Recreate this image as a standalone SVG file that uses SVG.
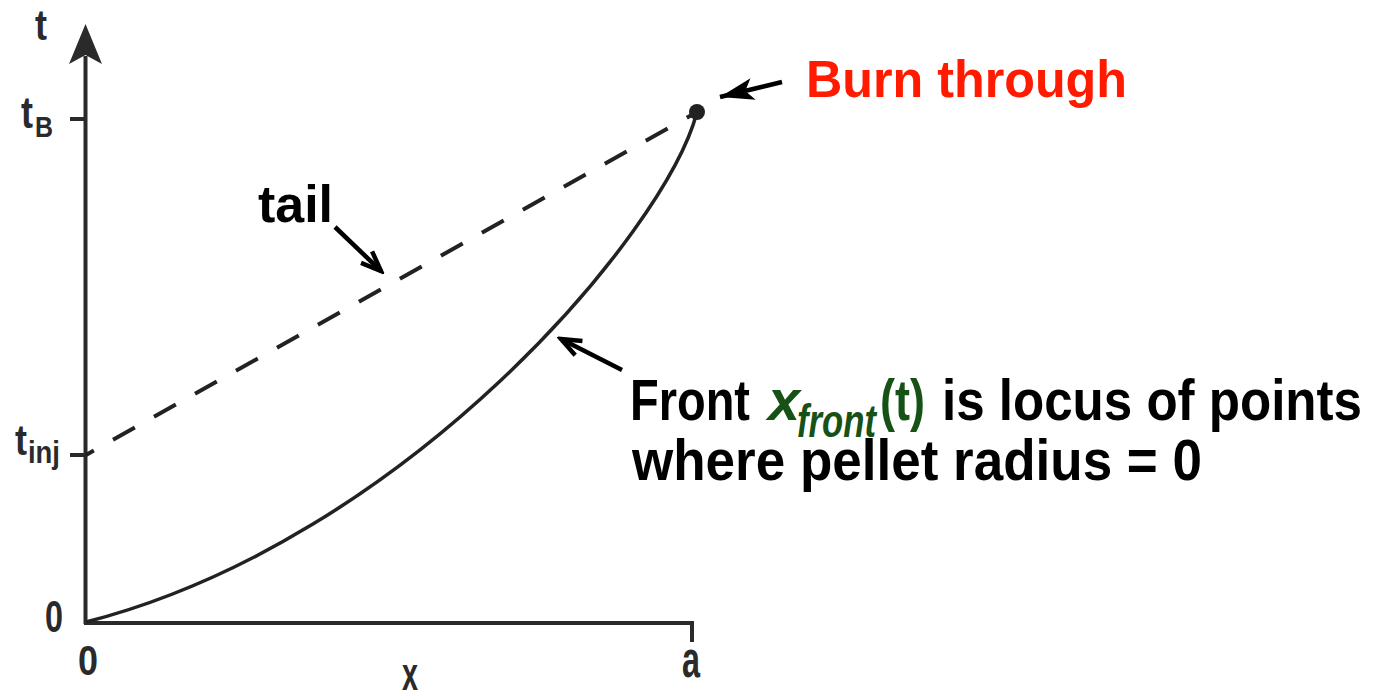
<svg xmlns="http://www.w3.org/2000/svg" width="1376" height="690" viewBox="0 0 1376 690">
  <style>
    .ax { font-family: "Liberation Sans", Arial, sans-serif; font-weight: bold; fill: #2a2a2a; }
    .lb { font-family: "Liberation Sans", Arial, sans-serif; font-weight: bold; fill: #000; }
    .gr { fill: #165216; }
    .it { font-style: italic; }
    .axis { stroke: #2a2a2a; stroke-width: 4; fill: none; }
    .curve { stroke: #222; stroke-width: 3.5; fill: none; }
    .dash { stroke: #222; stroke-width: 4; fill: none; stroke-dasharray: 25 22; stroke-dashoffset: 16; }
    .arr { stroke: #000; stroke-width: 4.5; fill: none; }
  </style>
  <defs>
    <marker id="chev" markerUnits="userSpaceOnUse" markerWidth="30" markerHeight="30" refX="0" refY="0" viewBox="-26 -15 30 30" orient="auto">
      <path d="M-20,-8 L0,0 L-20,8" stroke="#000" stroke-width="4.5" fill="none" stroke-linejoin="miter"/>
    </marker>
    <marker id="barb" markerUnits="userSpaceOnUse" markerWidth="40" markerHeight="30" refX="0" refY="0" viewBox="-36 -15 40 30" orient="auto">
      <path d="M0,0 L-34,-11 L-26,0 L-34,11 Z" fill="#000"/>
    </marker>
  </defs>
  <rect width="1376" height="690" fill="#ffffff"/>

  <g id="axes">
    <line class="axis" x1="85.5" y1="624" x2="85.5" y2="56"/>
    <polygon points="85.5,24 102,64 85.5,55 69,64" fill="#2a2a2a"/>
    <polyline class="axis" points="84,623 692,623 692,642"/>
    <line class="axis" x1="70" y1="119" x2="86" y2="119"/>
    <line class="axis" x1="70" y1="455" x2="86" y2="455"/>
  </g>

  <g id="axis-labels">
    <text class="ax" x="35" y="40" font-size="42" textLength="12" lengthAdjust="spacingAndGlyphs">t</text>
    <text class="ax" x="21" y="128" font-size="44" textLength="12" lengthAdjust="spacingAndGlyphs">t</text>
    <text class="ax" x="35" y="137" font-size="30" textLength="18" lengthAdjust="spacingAndGlyphs">B</text>
    <text class="ax" x="15" y="455" font-size="42" textLength="12" lengthAdjust="spacingAndGlyphs">t</text>
    <text class="ax" x="28" y="463" font-size="31" textLength="32" lengthAdjust="spacingAndGlyphs">inj</text>
    <text class="ax" x="45" y="632" font-size="44" textLength="18" lengthAdjust="spacingAndGlyphs">0</text>
    <text class="ax" x="78" y="675" font-size="42" textLength="20" lengthAdjust="spacingAndGlyphs">0</text>
    <text class="ax" x="682" y="677" font-size="52" textLength="18" lengthAdjust="spacingAndGlyphs">a</text>
    <text class="ax" x="402" y="690" font-size="46" textLength="16" lengthAdjust="spacingAndGlyphs">x</text>
  </g>

  <g id="curves">
    <path id="tail-line" class="dash" d="M86,455 L697,112"/>
    <path id="front-curve" class="curve" d="M86,622 C406,540 666,232 697,112"/>
    <circle id="burn-point" cx="697" cy="112" r="8" fill="#222"/>
  </g>

  <g id="connectors">
    <line class="arr" x1="335" y1="227" x2="381" y2="271" marker-end="url(#chev)"/>
    <line class="arr" x1="782" y1="82" x2="720" y2="97" marker-end="url(#barb)"/>
    <line class="arr" x1="622" y1="370" x2="561" y2="339" marker-end="url(#chev)"/>
  </g>

  <g id="label-tail">
    <text class="lb" x="258" y="222" font-size="52" textLength="75" lengthAdjust="spacingAndGlyphs">tail</text>
  </g>

  <g id="label-burn">
    <text class="lb" x="806" y="97" font-size="52" textLength="321" lengthAdjust="spacingAndGlyphs" style="fill:#ff1a00">Burn through</text>
  </g>

  <g id="label-front">
    <text class="lb" x="630" y="420" font-size="57" textLength="120" lengthAdjust="spacingAndGlyphs">Front</text>
    <text class="lb gr it" x="768" y="420" font-size="57" textLength="32" lengthAdjust="spacingAndGlyphs">x</text>
    <text class="lb gr it" x="797" y="437" font-size="46" textLength="79" lengthAdjust="spacingAndGlyphs">front</text>
    <text class="lb gr" x="880" y="420" font-size="57" textLength="45" lengthAdjust="spacingAndGlyphs">(t)</text>
    <text class="lb" x="942" y="420" font-size="57" textLength="420" lengthAdjust="spacingAndGlyphs">is locus of points</text>
    <text class="lb" x="632" y="480" font-size="57" textLength="570" lengthAdjust="spacingAndGlyphs">where pellet radius = 0</text>
  </g>
</svg>
